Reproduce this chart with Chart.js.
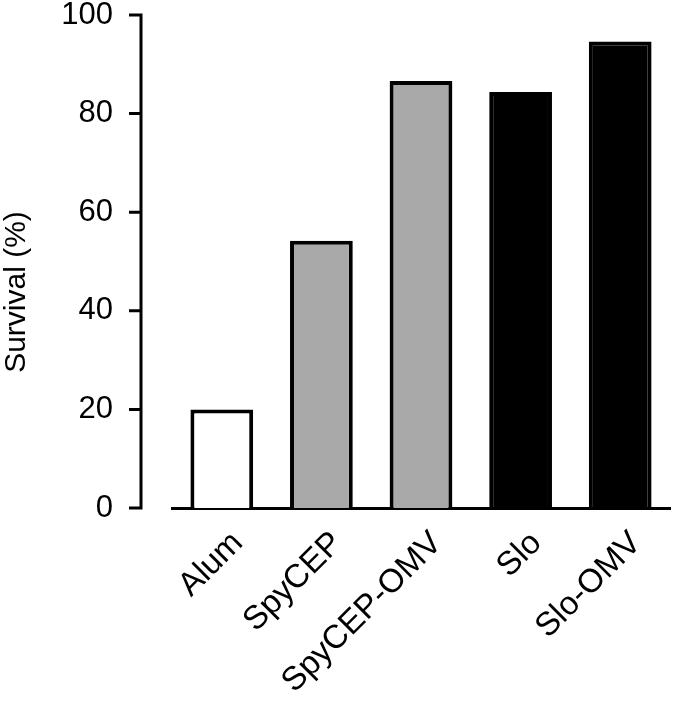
<!DOCTYPE html>
<html>
<head>
<meta charset="utf-8">
<script src="https://cdn.jsdelivr.net/npm/chart.js@4"></script>
<style>
  html, body { margin: 0; padding: 0; background: #fff; }
  #wrap { width: 682px; height: 707px; }
</style>
</head>
<body>
<div id="wrap"><canvas id="survivalChart" width="682" height="707"></canvas></div>
<script>
// data
const groups = ["Alum", "SpyCEP", "SpyCEP-OMV", "Slo", "Slo-OMV"];
const survival = [20, 54.2, 86.6, 84.4, 94.6];
const fills = ["#ffffff", "#a9a9a9", "#a9a9a9", "#000000", "#000000"];
const yTicks = [0, 20, 40, 60, 80, 100];
const yTitle = "Survival (%)";

const FONT = "'Liberation Sans', Arial, Helvetica, sans-serif";

// draws the detached y axis line + ticks and the rotated axis title
const offsetAxis = {
    id: "offsetAxis",
    afterDraw(chart) {
        const ctx = chart.ctx;
        const y = chart.scales.y;
        const axisX = 141;
        ctx.save();
        ctx.strokeStyle = "#000";
        ctx.lineWidth = 3;
        ctx.beginPath();
        ctx.moveTo(axisX, y.getPixelForValue(100) - 1.5);
        ctx.lineTo(axisX, y.getPixelForValue(0) + 1.5);
        yTicks.forEach(v => {
            const py = y.getPixelForValue(v);
            ctx.moveTo(129, py);
            ctx.lineTo(axisX, py);
        });
        ctx.stroke();

        // axis title
        ctx.fillStyle = "#000";
        ctx.font = "30px " + FONT;
        ctx.textAlign = "center";
        ctx.textBaseline = "middle";
        ctx.translate(17, 292);
        ctx.rotate(-Math.PI / 2);
        ctx.fillText(yTitle, 0, 0);
        ctx.restore();
    }
};

new Chart(document.getElementById("survivalChart"), {
    type: "bar",
    data: {
        labels: groups,
        datasets: [{
            data: survival,
            backgroundColor: fills,
            borderColor: "#000",
            borderWidth: 4,
            barPercentage: 0.63,
            categoryPercentage: 1
        }]
    },
    options: {
        responsive: false,
        animation: false,
        layout: { padding: { top: 0, right: 12, left: 0, bottom: 0 } },
        plugins: {
            legend: { display: false },
            tooltip: { enabled: false }
        },
        scales: {
            x: {
                grid: { display: false, drawTicks: false },
                border: { display: true, color: "#000", width: 3 },
                ticks: {
                    color: "#000",
                    font: { family: FONT, size: 33 },
                    minRotation: 45,
                    maxRotation: 45,
                    padding: 16,
                    labelOffset: 16
                },
                afterFit(scale) { scale.height = 199; }
            },
            y: {
                min: 0,
                max: 100,
                grid: { display: false, drawTicks: false },
                border: { display: false },
                ticks: {
                    stepSize: 20,
                    color: "#000",
                    font: { family: FONT, size: 31 },
                    padding: 59
                },
                afterFit(scale) {
                    // big label padding would otherwise push the plot down
                    scale.width = 172;
                    scale.paddingTop = 15;
                    scale.paddingBottom = 0;
                }
            }
        }
    },
    plugins: [offsetAxis]
});
</script>
</body>
</html>
